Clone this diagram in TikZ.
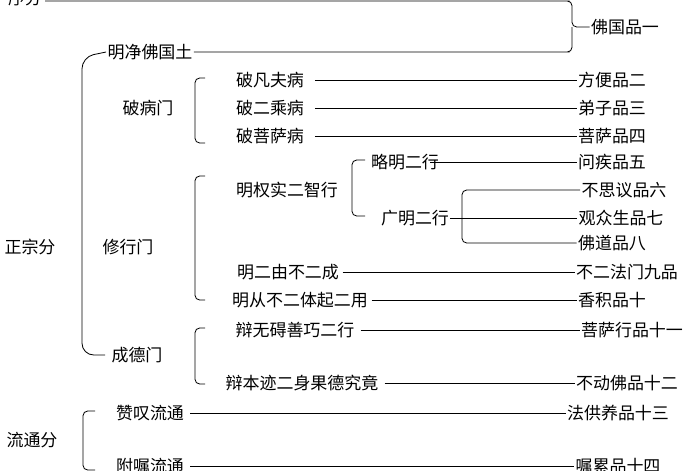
\documentclass[tikz,border=0pt]{standalone}
\usepackage{fontspec}
\setmainfont{Noto Sans CJK SC}
\tikzset{
  lbl/.style={font=\fontsize{14.5}{16}\selectfont,inner sep=1pt},
  lnk/.style={draw,line width=0.7pt},
  brk/.style={draw,line width=0.7pt,rounded corners=4pt}
}
\begin{document}
\begin{tikzpicture}[x=0.03cm,y=-0.03cm]
\useasboundingbox (0,0) rectangle (700,470);
% sections
\node[lbl] (xu) at (25,-2) {序分};
\node[lbl] (zheng) at (30,247) {正宗分};
\node[lbl] (liu) at (32,440) {流通分};
% first chapter
\node[lbl] (jing) at (150,52) {明净佛国土};
\node[lbl] (p1) at (625,27) {佛国品一};
\draw[brk] (45,1) -- (565,1) -- (572,1) -- (572,27) -- (p1.west);
\draw[brk] (jing.east) -- (565,52) -- (572,52) -- (572,27);
% main part bracket
\draw[brk,rounded corners=10pt] (jing.west) -- (82,57) -- (82,355) -- (105,355);
\node[lbl] (bing) at (148,108) {破病门};
\node[lbl] (xiu) at (128,247) {修行门};
\node[lbl] (de) at (137,355) {成德门};
% breaking illness
\node[lbl] (b1) at (270,80) {破凡夫病};
\node[lbl] (b2) at (270,108) {破二乘病};
\node[lbl] (b3) at (270,136) {破菩萨病};
\node[lbl] (p2) at (612,80) {方便品二};
\node[lbl] (p3) at (612,108) {弟子品三};
\node[lbl] (p4) at (612,136) {菩萨品四};
\draw[brk] (205,78) -- (195,78) -- (195,143) -- (205,143);
\foreach \a/\b in {b1/p2,b2/p3,b3/p4}
  \draw[lnk] ([xshift=8pt]\a.east) -- (\b.west);
% practice
\node[lbl] (q) at (287,190) {明权实二智行};
\node[lbl] (lue) at (405,162) {略明二行};
\node[lbl] (guang) at (415,218) {广明二行};
\node[lbl] (p5) at (612,162) {问疾品五};
\node[lbl] (p6) at (624,190) {不思议品六};
\node[lbl] (p7) at (621,218) {观众生品七};
\node[lbl] (p8) at (612,243) {佛道品八};
\draw[brk] (205,176) -- (195,176) -- (195,300) -- (205,300);
\draw[brk] (365,160) -- (352,160) -- (352,216) -- (365,216);
\draw[lnk] (430,162) -- (p5.west);
\draw[brk] (guang.east) -- (462,218);
\draw[brk] (p6.west) -- (462,190) -- (462,243) -- (p8.west);
\draw[lnk] (462,218) -- (p7.west);
\node[lbl] (e1) at (288,272) {明二由不二成};
\node[lbl] (e2) at (300,300) {明从不二体起二用};
\node[lbl] (p9) at (627,272) {不二法门九品};
\node[lbl] (p10) at (612,300) {香积品十};
\draw[lnk] ([xshift=2pt]e1.east) -- (p9.west);
\draw[lnk] ([xshift=2pt]e2.east) -- (p10.west);
% virtue
\node[lbl] (d1) at (295,330) {辩无碍善巧二行};
\node[lbl] (d2) at (302,383) {辩本迹二身果德究竟};
\node[lbl] (p11) at (632,330) {菩萨行品十一};
\node[lbl] (p12) at (627,383) {不动佛品十二};
\draw[brk] (205,328) -- (195,328) -- (195,384) -- (205,384);
\draw[lnk] ([xshift=4pt]d1.east) -- (p11.west);
\draw[lnk] ([xshift=4pt]d2.east) -- (p12.west);
% circulation
\node[lbl] (l1) at (150,413) {赞叹流通};
\node[lbl] (l2) at (150,466) {附嘱流通};
\node[lbl] (p13) at (618,413) {法供养品十三};
\node[lbl] (p14) at (618,466) {嘱累品十四};
\draw[brk] (95,411) -- (83,411) -- (83,470) -- (95,470);
\draw[lnk] ([xshift=4pt]l1.east) -- (p13.west);
\draw[lnk] ([xshift=4pt]l2.east) -- (p14.west);
\end{tikzpicture}
\end{document}
